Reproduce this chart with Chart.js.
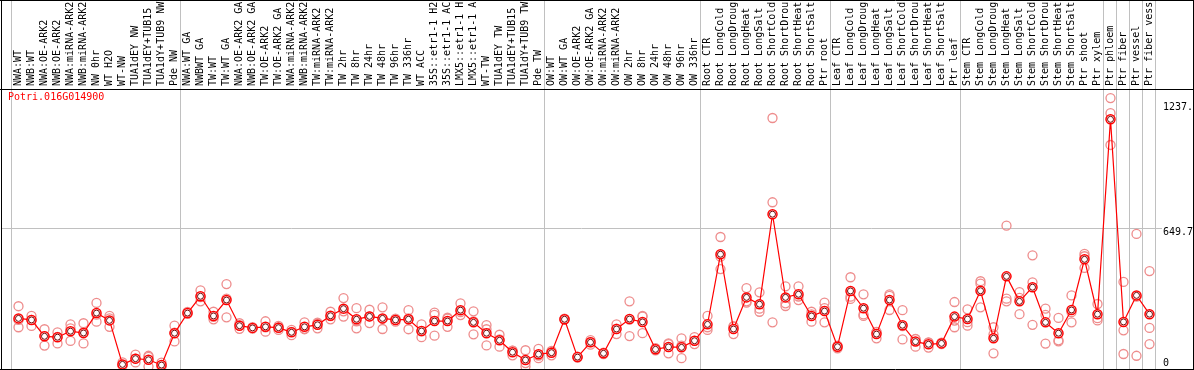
<!DOCTYPE html>
<html>
<head>
<meta charset="utf-8">
<title>Potri.016G014900</title>
<script src="https://cdn.jsdelivr.net/npm/chart.js"></script>
<style>
  html, body { margin: 0; padding: 0; background: #fff; }
  canvas { display: block; }
</style>
</head>
<body>
<canvas id="exprChart" width="1194" height="370"></canvas>
<script>
const geneName = 'Potri.016G014900';

const categories = [
    'NWA:WT', 'NWB:WT', 'NWA:OE-ARK2', 'NWB:OE-ARK2', 'NWA:miRNA-ARK2', 'NWB:miRNA-ARK2', 'NW 0hr', 'WT H2O', 'WT-NW',
    'TUA1dEY NW', 'TUA1dEY+TUB15', 'TUA1dY+TUB9 NW', 'Pde NW',
    'NWA:WT GA', 'NWBWT GA', 'TW:WT', 'TW:WT GA', 'NWA:OE-ARK2 GA', 'NWB:OE-ARK2 GA', 'TW:OE-ARK2', 'TW:OE-ARK2 GA',
    'NWA:miRNA-ARK2', 'NWB:miRNA-ARK2', 'TW:miRNA-ARK2', 'TW:miRNA-ARK2', 'TW 2hr', 'TW 8hr', 'TW 24hr', 'TW 48hr',
    'TW 96hr', 'TW 336hr', 'WT ACC', '35S::etr1-1 H2', '35S::etr1-1 AC', 'LMX5::etr1-1 H', 'LMX5::etr1-1 A', 'WT-TW',
    'TUA1dEY TW', 'TUA1dEY+TUB15', 'TUA1dY+TUB9 TW', 'Pde TW',
    'OW:WT', 'OW:WT GA', 'OW:OE-ARK2', 'OW:OE-ARK2 GA', 'OW:miRNA-ARK2', 'OW:miRNA-ARK2', 'OW 2hr', 'OW 8hr',
    'OW 24hr', 'OW 48hr', 'OW 96hr', 'OW 336hr',
    'Root CTR', 'Root LongCold', 'Root LongDroug', 'Root LongHeat', 'Root LongSalt', 'Root ShortCold', 'Root ShortDrou',
    'Root ShortHeat', 'Root ShortSalt', 'Ptr root',
    'Leaf CTR', 'Leaf LongCold', 'Leaf LongDroug', 'Leaf LongHeat', 'Leaf LongSalt', 'Leaf ShortCold', 'Leaf ShortDrou',
    'Leaf ShortHeat', 'Leaf ShortSalt', 'Ptr leaf',
    'Stem CTR', 'Stem LongCold', 'Stem LongDroug', 'Stem LongHeat', 'Stem LongSalt', 'Stem ShortCold', 'Stem ShortDrou',
    'Stem ShortHeat', 'Stem ShortSalt', 'Ptr shoot', 'Ptr xylem',
    'Ptr phloem', 'Ptr fiber', 'Ptr vessel', 'Ptr fiber vess'
];

// group separators (index of first sample after the line)
const groupBreaks = [0, 13, 41, 53, 63, 73, 84, 85, 86, 87, 88];

const means = [
    241, 234, 160, 156, 183, 175, 265, 232, 33, 59,
    54, 30, 174, 265, 341, 252, 324, 208, 198, 203,
    199, 178, 203, 212, 253, 285, 237, 250, 241, 234,
    237, 184, 229, 229, 278, 223, 174, 142, 88, 53,
    79, 86, 237, 66, 133, 83, 193, 238, 225, 101,
    112, 110, 140, 214, 531, 193, 336, 305, 712, 336,
    350, 252, 274, 113, 365, 287, 170, 324, 210, 136,
    124, 128, 249, 238, 366, 151, 431, 318, 382, 223,
    174, 279, 508, 260, 1141, 225, 345, 260
];

const rep1 = [
    296, 252, 192, 178, 214, 219, 311, 252, 42, 77,
    72, 41, 208, 270, 368, 271, 396, 219, 201, 228,
    207, 189, 223, 222, 271, 333, 287, 280, 291, 226,
    278, 214, 267, 244, 309, 273, 211, 167, 74, 97,
    103, 74, 240, 66, 143, 83, 214, 318, 249, 106,
    128, 151, 156, 252, 609, 203, 378, 359, 1147, 386,
    386, 271, 312, 106, 427, 350, 151, 350, 278, 113,
    109, 128, 315, 282, 409, 201, 660, 360, 526, 285,
    243, 345, 533, 306, 1237, 406, 623, 455
];

const rep2 = [
    201, 207, 118, 128, 139, 128, 226, 203, 28, 42,
    23, 23, 137, 262, 318, 237, 246, 194, 195, 181,
    189, 165, 192, 196, 237, 249, 196, 220, 193, 240,
    192, 156, 163, 203, 256, 169, 119, 113, 95, 23,
    61, 90, 235, 64, 122, 80, 170, 161, 174, 100,
    83, 61, 125, 189, 464, 170, 312, 271, 766, 309,
    324, 226, 223, 115, 329, 252, 180, 279, 146, 148,
    131, 125, 201, 208, 291, 83, 330, 260, 404, 127,
    137, 223, 469, 232, 1169, 187, 72, 198
];

const rep3 = [
    234, 234, 161, 157, 196, 178, 258, 241, 30, 59,
    67, 26, 177, 263, 337, 248, 330, 211, 198, 200,
    201, 180, 194, 218, 251, 273, 228, 250, 239, 236,
    241, 182, 257, 240, 269, 227, 192, 146, 95, 39,
    73, 94, 236, 68, 134, 86, 195, 235, 252, 97,
    125, 118, 139, 201, 520, 206, 318, 285, 223, 297,
    340, 259, 287, 118, 339, 259, 179, 343, 206, 147,
    132, 131, 231, 224, 398, 169, 318, 334, 212, 257,
    142, 269, 522, 242, 1025, 80, 340, 125
];

const yTickValues = [1237.5, 649.7, 0];
const yTickLabels = ['1237.', '649.7', '0'];

const FONT = '10px "DejaVu Sans Mono", "Liberation Mono", monospace';

function hline(ctx, x1, x2, y) { ctx.beginPath(); ctx.moveTo(x1, y); ctx.lineTo(x2, y); ctx.stroke(); }
function vline(ctx, x, y1, y2) { ctx.beginPath(); ctx.moveTo(x, y1); ctx.lineTo(x, y2); ctx.stroke(); }

const framePlugin = {
    id: 'framePlugin',
    beforeDatasetsDraw(chart) {
        const ctx = chart.ctx;
        const xs = chart.scales.x, ys = chart.scales.y, a = chart.chartArea;
        const step = xs.getPixelForValue(1) - xs.getPixelForValue(0);
        ctx.save();
        ctx.lineWidth = 1;
        ctx.strokeStyle = '#c0c0c0';
        groupBreaks.forEach(k => {
            const x = Math.floor(xs.getPixelForValue(k) - step / 2) - 0.5;
            vline(ctx, x, 0, a.bottom);
        });
        const gy = Math.round(ys.getPixelForValue(yTickValues[1])) + 0.5;
        hline(ctx, 1, a.right + 6, gy);

        // sample names, rotated
        ctx.font = FONT;
        ctx.fillStyle = '#000';
        ctx.textBaseline = 'middle';
        ctx.textAlign = 'left';
        categories.forEach((c, i) => {
            ctx.save();
            ctx.translate(xs.getPixelForValue(i) - 0.5, a.top - 3);
            ctx.rotate(-Math.PI / 2);
            ctx.fillText(c, 0, 0);
            ctx.restore();
        });
        ctx.restore();
    },
    afterDraw(chart) {
        const ctx = chart.ctx;
        const ys = chart.scales.y, a = chart.chartArea;
        const W = chart.width;
        ctx.save();
        ctx.lineWidth = 1;
        ctx.strokeStyle = '#000';
        hline(ctx, 0, W, 0.5);
        hline(ctx, 0, W, a.top + 0.5);
        hline(ctx, 0, W, a.bottom + 0.5);
        vline(ctx, 1.5, 0, a.bottom + 1);
        vline(ctx, W - 0.5, 0, a.bottom + 1);

        ctx.font = FONT;
        ctx.fillStyle = '#ff0000';
        ctx.textBaseline = 'top';
        ctx.fillText(geneName, a.left - 4, a.top + 3);

        // value labels on the right
        ctx.fillStyle = '#000';
        const lx = a.right + 7;
        ctx.textBaseline = 'top';
        ctx.fillText(yTickLabels[0], lx, ys.getPixelForValue(yTickValues[0]) + 4);
        ctx.fillText(yTickLabels[1], lx, ys.getPixelForValue(yTickValues[1]) - 1);
        ctx.textBaseline = 'alphabetic';
        ctx.fillText(yTickLabels[2], lx, ys.getPixelForValue(yTickValues[2]) - 6);
        ctx.restore();
    }
};

function repSet(data) {
    return {
        data: data,
        showLine: false,
        pointStyle: 'circle',
        pointRadius: 4.5,
        pointBorderWidth: 1.3,
        pointBorderColor: '#ee8c8c',
        pointBackgroundColor: 'rgba(0,0,0,0)',
        clip: false
    };
}

const ctx = document.getElementById('exprChart').getContext('2d');
new Chart(ctx, {
    type: 'line',
    data: {
        labels: categories,
        datasets: [
            {
                data: means,
                showLine: false,
                pointRadius: 3,
                pointBorderWidth: 1,
                pointBorderColor: '#700000',
                pointBackgroundColor: 'rgba(0,0,0,0)',
                clip: false
            },
            {
                data: means,
                borderColor: '#ff0000',
                borderWidth: 1.2,
                pointRadius: 4.5,
                pointBorderWidth: 1.5,
                pointBorderColor: '#ff0000',
                pointBackgroundColor: '#ffffff',
                tension: 0,
                clip: false
            },
            repSet(rep1),
            repSet(rep2),
            repSet(rep3)
        ]
    },
    options: {
        responsive: false,
        animation: false,
        devicePixelRatio: 1,
        layout: { autoPadding: false, padding: { left: 12, right: 38, top: 89, bottom: 1 } },
        scales: {
            x: { display: false, offset: true },
            y: { display: false, min: 12.2, max: 1278.1 }
        },
        plugins: { legend: { display: false }, tooltip: { enabled: false } }
    },
    plugins: [framePlugin]
});
</script>
</body>
</html>
